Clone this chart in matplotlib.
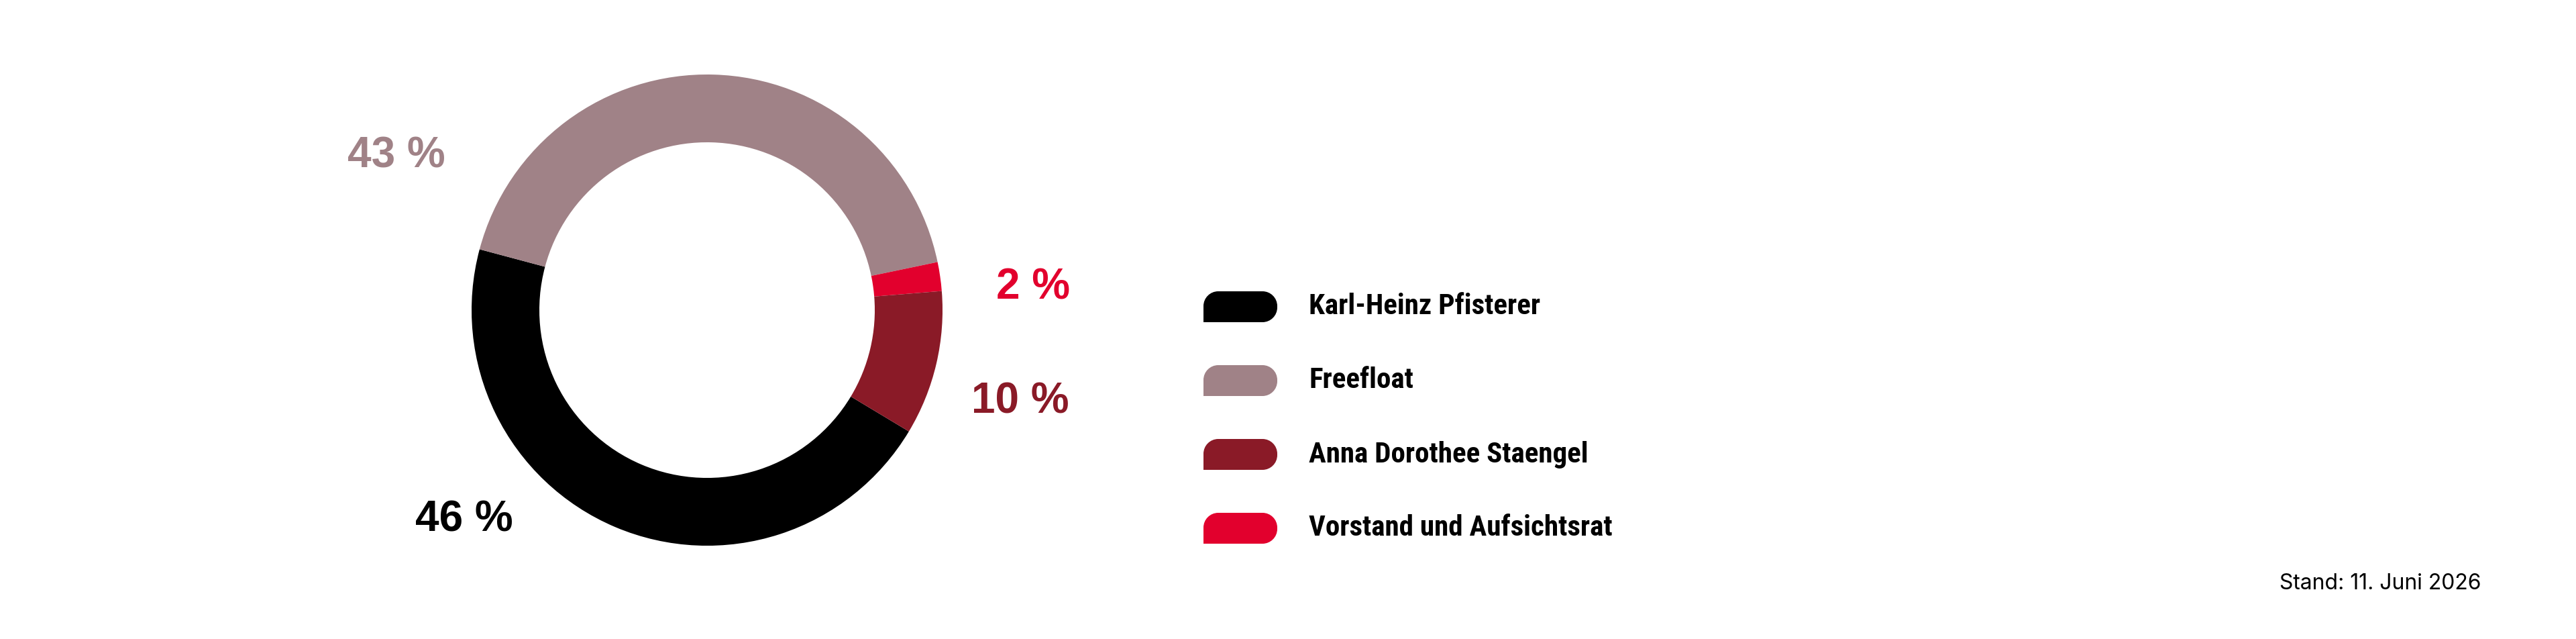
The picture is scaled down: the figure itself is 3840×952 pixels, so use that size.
import matplotlib
matplotlib.use("Agg")
import matplotlib.pyplot as plt
from matplotlib import font_manager
from matplotlib.path import Path
from matplotlib.patches import PathPatch

# Daten
names = ["Karl-Heinz Pfisterer", "Freefloat", "Anna Dorothee Staengel", "Vorstand und Aufsichtsrat"]
shares = [46, 43, 10, 2]
colors = ["#000000", "#A08287", "#8A1A27", "#E2002D"]
stand = "Stand: 11. Juni 2026"

# Reihenfolge im Ring (im Uhrzeigersinn ab Startwinkel)
ring_order = [0, 1, 3, 2]

W, H = 3840, 952
fig = plt.figure(figsize=(W / 100, H / 100), dpi=100)
ax = fig.add_axes([0, 0, 1, 1])

cx, cy, r_out, ring_w = 1054, H - 462, 351, 101
ax.pie([shares[i] for i in ring_order], colors=[colors[i] for i in ring_order],
       startangle=-31, counterclock=False, radius=r_out, center=(cx, cy),
       wedgeprops=dict(width=ring_w, linewidth=0))

ax.set_xlim(0, W)
ax.set_ylim(0, H)
ax.set_aspect("auto")
ax.axis("off")

# Prozent-Beschriftungen
label_pos = [(692, 774), (591, 232), (1521, 599), (1540, 428)]
for i, (lx, ly) in enumerate(label_pos):
    ax.text(lx, H - ly, f"{shares[i]} %", color=colors[i], fontsize=46,
            fontweight="bold", family="Liberation Sans", ha="center", va="center")

# Schrift für die Legende suchen
available = {f.name for f in font_manager.fontManager.ttflist}
legend_font = "Roboto"
for cand in ["Roboto Condensed", "Liberation Sans Narrow", "Open Sans Condensed"]:
    if cand in available:
        legend_font = cand
        break


def swatch(x0, y0, w, h, r):
    # oben links, oben rechts, unten rechts abgerundet; unten links eckig
    k = 0.5523
    verts = [
        (x0, y0),
        (x0 + w - r, y0),
        (x0 + w - r + k * r, y0), (x0 + w, y0 + r - k * r), (x0 + w, y0 + r),
        (x0 + w, y0 + h - r),
        (x0 + w, y0 + h - r + k * r), (x0 + w - r + k * r, y0 + h), (x0 + w - r, y0 + h),
        (x0 + r, y0 + h),
        (x0 + r - k * r, y0 + h), (x0, y0 + h - r + k * r), (x0, y0 + h - r),
        (x0, y0),
    ]
    codes = [Path.MOVETO, Path.LINETO,
             Path.CURVE4, Path.CURVE4, Path.CURVE4,
             Path.LINETO,
             Path.CURVE4, Path.CURVE4, Path.CURVE4,
             Path.LINETO,
             Path.CURVE4, Path.CURVE4, Path.CURVE4,
             Path.CLOSEPOLY]
    return Path(verts, codes)


row_y = [457, 567, 677, 787]
for i, name in enumerate(names):
    yb = H - row_y[i]
    ax.add_patch(PathPatch(swatch(1794, yb - 23, 110, 46, 22), facecolor=colors[i], edgecolor="none"))
    ax.text(1951, yb, name, fontsize=31, fontweight="bold", family=legend_font,
            ha="left", va="center", color="black")

ax.text(3698, H - 870, stand, fontsize=23, family="Inter", ha="right", va="center", color="black")

fig.savefig("out.png", dpi=100, facecolor="white")
